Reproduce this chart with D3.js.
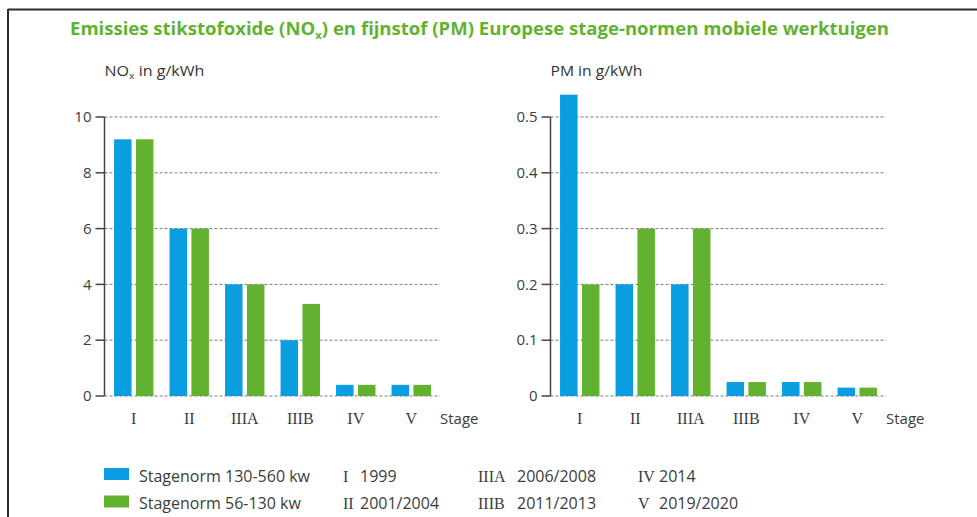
<!DOCTYPE html>
<html>
<head>
<meta charset="utf-8">
<script src="https://cdn.jsdelivr.net/npm/d3@7"></script>
<style>
  html, body { margin: 0; padding: 0; background: #fff; }
  svg { display: block; }
  .tick-text { font-family: "Open Sans", sans-serif; font-size: 15px; fill: #3c3c3c; }
  .cat-text { font-family: "Liberation Serif", serif; font-size: 16px; fill: #3c3c3c; }
  .axis-title { font-family: "Open Sans", sans-serif; font-size: 14px; fill: #333; }
  .legend-text { font-family: "Open Sans", sans-serif; font-size: 15px; fill: #3c3c3c; }
  .grid { stroke: #7a7a7a; stroke-width: 1; stroke-dasharray: 3 2; }
</style>
</head>
<body>
<svg id="chart" width="977" height="517"></svg>
<script>
const STAGES = ["I", "II", "IIIA", "IIIB", "IV", "V"];
const STAGE_YEARS = ["1999", "2001/2004", "2006/2008", "2011/2013", "2014", "2019/2020"];
const SERIES = ["Stagenorm 130-560 kw", "Stagenorm 56-130 kw"];
const NOX_LARGE = [9.2, 6, 4, 2, 0.4, 0.4];
const NOX_SMALL = [9.2, 6, 4, 3.3, 0.4, 0.4];
const PM_LARGE = [0.54, 0.2, 0.2, 0.025, 0.025, 0.015];
const PM_SMALL = [0.2, 0.3, 0.3, 0.025, 0.025, 0.015];
const NOX_TICKS = [0, 2, 4, 6, 8, 10];
const PM_TICKS = [0, 0.1, 0.2, 0.3, 0.4, 0.5];

const color = d3.scaleOrdinal().domain(SERIES).range(["#0a9ee0", "#63b22f"]);
const svg = d3.select("#chart");

// frame
svg.append("line").attr("x1", 8).attr("x2", 977).attr("y1", 9.5).attr("y2", 9.5)
  .attr("stroke", "#2b2b2b").attr("stroke-width", 2);
svg.append("line").attr("x1", 8).attr("x2", 8).attr("y1", 9).attr("y2", 517)
  .attr("stroke", "#2b2b2b").attr("stroke-width", 2);

// title, squeezed to the condensed width of the original
const title = svg.append("text")
  .attr("x", 70).attr("y", 35)
  .style("font-family", "'Open Sans', sans-serif")
  .style("font-size", "18px").style("font-weight", "bold")
  .attr("fill", "#62b232");
title.append("tspan").text("Emissies stikstofoxide (NO");
title.append("tspan").attr("dy", 4).style("font-size", "11px").text("x");
title.append("tspan").attr("dy", -4).text(") en fijnstof (PM) Europese stage-normen mobiele werktuigen");
squeeze(title, 70, 820);

function squeeze(sel, x0, target) {
  const w = sel.node().getComputedTextLength();
  const k = target / w;
  sel.attr("transform", `translate(${x0},0) scale(${k},1) translate(${-x0},0)`);
}

function drawPanel(opts) {
  const x = d3.scaleBand().domain(STAGES).range(opts.xRange).paddingInner(0.29).paddingOuter(0.145);
  const xSub = d3.scaleBand().domain(SERIES).range([0, x.bandwidth()]).paddingInner(0.2);
  const y = d3.scaleLinear().domain(opts.domain).range([396, 117]);
  const axisX = opts.xRange[0] - 1.5;
  const g = svg.append("g");

  // axis title
  const t = g.append("text").attr("class", "axis-title").attr("x", axisX).attr("y", 76);
  t.append("tspan").text(opts.titleMain);
  if (opts.titleSub) {
    t.append("tspan").attr("dy", 3).style("font-size", "9px").text(opts.titleSub);
    t.append("tspan").attr("dy", -3).text(opts.titleRest);
  }
  squeeze(t, axisX, opts.titleWidth);

  // gridlines
  g.selectAll(".grid").data(opts.ticks).join("line")
    .attr("class", "grid")
    .attr("x1", axisX).attr("x2", opts.gridEnd)
    .attr("y1", d => y(d)).attr("y2", d => y(d));

  // bars
  const rows = STAGES.map((s, i) => ({ stage: s, values: [opts.large[i], opts.small[i]] }));
  g.selectAll(".grp").data(rows).join("g")
    .attr("transform", d => `translate(${x(d.stage)},0)`)
    .selectAll("rect")
    .data(d => d.values.map((v, j) => ({ key: SERIES[j], value: v })))
    .join("rect")
    .attr("x", d => xSub(d.key))
    .attr("width", xSub.bandwidth())
    .attr("y", d => y(d.value))
    .attr("height", d => y(0) - y(d.value))
    .attr("fill", d => color(d.key));

  // y axis line and ticks
  g.append("line").attr("x1", axisX).attr("x2", axisX)
    .attr("y1", y(opts.ticks[opts.ticks.length - 1])).attr("y2", y(0))
    .attr("stroke", "#444").attr("stroke-width", 1.5);
  g.selectAll(".tk").data(opts.ticks).join("line")
    .attr("x1", axisX - 9).attr("x2", axisX)
    .attr("y1", d => y(d)).attr("y2", d => y(d))
    .attr("stroke", "#444").attr("stroke-width", 1.5);
  g.selectAll(".tick-text").data(opts.ticks).join("text")
    .attr("class", "tick-text")
    .attr("x", axisX - 13).attr("y", d => y(d))
    .attr("dy", "0.35em").attr("text-anchor", "end")
    .text(opts.format);

  // category labels
  g.selectAll(".cat-text").data(STAGES).join("text")
    .attr("class", "cat-text")
    .attr("x", d => x(d) + x.bandwidth() / 2).attr("y", 424)
    .attr("text-anchor", "middle")
    .text(d => d);
  g.append("text").attr("class", "tick-text")
    .attr("x", opts.gridEnd).attr("y", 424).text("Stage");
}

drawPanel({
  xRange: [106, 439], gridEnd: 440, domain: [0, 10], ticks: NOX_TICKS,
  large: NOX_LARGE, small: NOX_SMALL, format: d3.format("d"),
  titleMain: "NO", titleSub: "x", titleRest: " in g/kWh", titleWidth: 100
});
drawPanel({
  xRange: [552, 885], gridEnd: 886, domain: [0, 0.5], ticks: PM_TICKS,
  large: PM_LARGE, small: PM_SMALL, format: d => d === 0 ? "0" : d3.format(".1f")(d),
  titleMain: "PM in g/kWh", titleWidth: 92
});

// legend: series
const leg = svg.append("g");
leg.selectAll("rect").data(SERIES).join("rect")
  .attr("x", 104).attr("y", (d, i) => 468 + i * 27.5)
  .attr("width", 25).attr("height", 12)
  .attr("fill", d => color(d));
leg.selectAll(".legend-text").data(SERIES).join("text")
  .attr("class", "legend-text")
  .attr("x", 139).attr("y", (d, i) => 481.5 + i * 27)
  .style("font-size", "16px")
  .text(d => d);

// legend: stage years in three columns of two
const COL_X = [[343, 360], [478, 517], [638, 659]];
const yearRows = STAGES.map((s, i) => ({ stage: s, year: STAGE_YEARS[i], col: Math.floor(i / 2), row: i % 2 }));
const yr = leg.selectAll(".yr").data(yearRows).join("g");
yr.append("text").attr("class", "cat-text")
  .attr("x", d => COL_X[d.col][0]).attr("y", d => 481.5 + d.row * 27)
  .text(d => d.stage);
yr.append("text").attr("class", "legend-text")
  .attr("x", d => COL_X[d.col][1]).attr("y", d => 481.5 + d.row * 27)
  .style("font-size", "16px")
  .text(d => d.year);
</script>
</body>
</html>
